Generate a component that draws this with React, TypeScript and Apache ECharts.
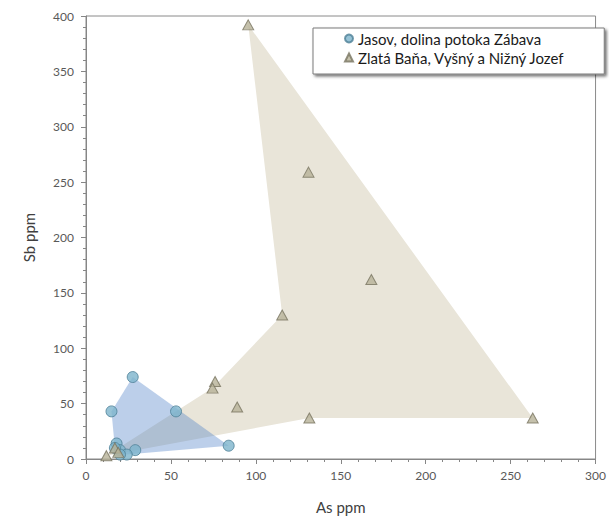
import React, { useEffect, useRef } from "react";
import * as echarts from "echarts";

// As (x) / Sb (y) concentrations in ppm
const jasovPoints: [number, number][] = [
  [27.5, 74], [15, 43], [53, 43], [84, 12], [18, 14],
  [20, 8], [29, 8], [24, 4], [20, 4], [17, 10],
];
const zlataPoints: [number, number][] = [
  [95.5, 392], [131, 259], [168, 162], [115.5, 130], [76, 70],
  [74.5, 64], [89, 47], [131.5, 37], [263, 37], [12, 3], [17, 10], [19, 6],
];

// Outline of each field, as indices into the point lists (in drawing order)
const jasovOutline = [0, 3, 7, 8, 9, 1];
const zlataOutline = [0, 8, 7, 9, 5, 3];

const jasovName = "Jasov, dolina potoka Zábava";
const zlataName = "Zlatá Baňa, Vyšný a Nižný Jozef";

const xTicks = { min: 0, max: 300, interval: 50 };
const yTicks = { min: 0, max: 400, interval: 50 };

const FONT = "Lato, 'Open Sans', sans-serif";

function fieldSeries(points: [number, number][], outline: number[], fill: string, z: number) {
  return {
    type: "custom",
    z,
    silent: true,
    data: [[0, 0]],
    renderItem: (_params: any, api: any) => ({
      type: "polygon",
      shape: { points: outline.map((i) => api.coord(points[i])) },
      style: { fill, stroke: "none" },
    }),
  };
}

export default function App() {
  const ref = useRef<HTMLDivElement>(null);

  useEffect(() => {
    if (!ref.current) return;
    const chart = echarts.init(ref.current, undefined, { renderer: "svg" });

    const axisCommon = {
      axisLine: { show: true, lineStyle: { color: "#868686", width: 1 } },
      axisTick: { show: true, length: 5, lineStyle: { color: "#868686" } },
      minorTick: { show: true, splitNumber: 5, length: 3, lineStyle: { color: "#868686" } },
      splitLine: { show: false },
      axisLabel: { color: "#595959", fontSize: 12, fontFamily: FONT },
      nameTextStyle: { color: "#404040", fontSize: 15, fontFamily: FONT },
    };

    chart.setOption({
      animation: false,
      backgroundColor: "#ffffff",
      grid: {
        left: 86,
        top: 16,
        right: 10,
        bottom: 58,
        show: true,
        borderColor: "#8a8a8a",
        borderWidth: 1,
        backgroundColor: "transparent",
      },
      xAxis: {
        type: "value",
        ...xTicks,
        ...axisCommon,
        name: "As ppm",
        nameLocation: "middle",
        nameGap: 40,
        axisLabel: { ...axisCommon.axisLabel, margin: 10 },
      },
      yAxis: {
        type: "value",
        ...yTicks,
        ...axisCommon,
        name: "Sb ppm",
        nameLocation: "middle",
        nameGap: 50,
        axisLabel: { ...axisCommon.axisLabel, margin: 12 },
      },
      legend: {
        data: [jasovName, zlataName],
        orient: "vertical",
        left: 313,
        top: 28,
        padding: [2, 39, 8, 31],
        itemGap: 2,
        itemWidth: 8,
        itemHeight: 8,
        backgroundColor: "#ffffff",
        borderColor: "#7a7a7a",
        borderWidth: 1,
        shadowColor: "rgba(0,0,0,0.55)",
        shadowBlur: 3,
        shadowOffsetX: 2,
        shadowOffsetY: 2,
        textStyle: { color: "#1a1a1a", fontSize: 15, lineHeight: 17, fontFamily: FONT },
      },
      series: [
        fieldSeries(zlataPoints, zlataOutline, "#e9e5d9", 1),
        fieldSeries(jasovPoints, jasovOutline, "rgba(80,128,200,0.38)", 2),
        {
          name: jasovName,
          type: "scatter",
          z: 3,
          symbol: "circle",
          symbolSize: 11,
          data: jasovPoints,
          itemStyle: { color: "#7db4cc", borderColor: "#4e7f96", borderWidth: 1 },
        },
        {
          name: zlataName,
          type: "scatter",
          z: 4,
          symbol: "triangle",
          symbolSize: [11, 10],
          data: zlataPoints,
          itemStyle: { color: "#b6b197", borderColor: "#787460", borderWidth: 1 },
        },
      ],
    });

    return () => chart.dispose();
  }, []);

  return (
    <div
      ref={ref}
      style={{ position: "fixed", left: 0, top: 0, width: 609, height: 519, background: "#fff" }}
    />
  );
}
